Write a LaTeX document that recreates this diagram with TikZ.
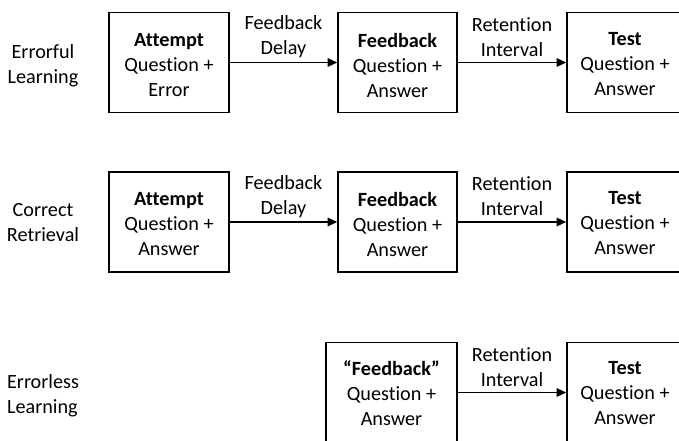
\documentclass[tikz,border=0pt]{standalone}
\usepackage{fontspec}
\setmainfont{Carlito}[RawFeature={-liga;-clig;-calt;-dlig}]
\usetikzlibrary{arrows.meta}
\begin{document}
\begin{tikzpicture}[x=1pt,y=-1pt,
  every node/.style={font=\fontsize{20.2}{25}\selectfont, align=center},
  stage/.style={draw, line width=1.6pt, minimum height=100pt, inner sep=0pt},
  inside/.style={inner sep=0pt},
  flow/.style={line width=1.3pt, -{Triangle[length=9.5pt,width=8.5pt]}},
  gap/.style={midway, yshift=25.5pt},
  rowlabel/.style={inner sep=0pt}]
\useasboundingbox (0,0) rectangle (679,441);
\clip (0,0) rectangle (679,441);

% Errorful learning
\node[rowlabel] (l1) at (43,65.5) {Errorful\\Learning};
\node[stage, minimum width=120pt] (a1) at (169,62.5) {};
\node[stage, minimum width=119pt] (f1) at (397.5,62.5) {};
\node[stage, minimum width=116pt] (t1) at (625,62.5) {};
\node[inside] (a1t) at ([yshift=-2.5pt]a1.center) {\textbf{Attempt}\\Question +\\Error};
\node[inside] (f1t) at ([yshift=-2.5pt]f1.center) {\textbf{Feedback}\\Question +\\Answer};
\node[inside] (t1t) at ([yshift=-2pt]t1.center) {\textbf{Test}\\Question +\\Answer};
\draw[flow] (a1.east) -- node[gap] {Feedback\\Delay} (f1.west);
\draw[flow] (f1.east) -- node[gap] {Retention\\Interval} (t1.west);

% Correct retrieval
\node[rowlabel] (l2) at (43,222.5) {Correct\\Retrieval};
\node[stage, minimum width=120pt] (a2) at (169,222) {};
\node[stage, minimum width=119pt] (f2) at (397.5,222) {};
\node[stage, minimum width=116pt] (t2) at (625,222) {};
\node[inside] (a2t) at ([yshift=-2.5pt]a2.center) {\textbf{Attempt}\\Question +\\Answer};
\node[inside] (f2t) at ([yshift=-2pt]f2.center) {\textbf{Feedback}\\Question +\\Answer};
\node[inside] (t2t) at ([yshift=-1pt]t2.center) {\textbf{Test}\\Question +\\Answer};
\draw[flow] (a2.east) -- node[gap] {Feedback\\Delay} (f2.west);
\draw[flow] (f2.east) -- node[gap] {Retention\\Interval} (t2.west);

% Errorless learning
\node[rowlabel, align=left] (l3) at (43,395.5) {Errorless\\Learning};
\node[stage, minimum width=131pt] (f3) at (391.5,392.5) {};
\node[stage, minimum width=116pt] (t3) at (625,392.5) {};
\node[inside] (f3t) at ([yshift=-1pt]f3.center) {\textbf{“Feedback”}\\Question +\\Answer};
\node[inside] (t3t) at ([yshift=-0.5pt]t3.center) {\textbf{Test}\\Question +\\Answer};
\draw[flow] (f3.east) -- node[gap] {Retention\\Interval} (t3.west);
\end{tikzpicture}
\end{document}
